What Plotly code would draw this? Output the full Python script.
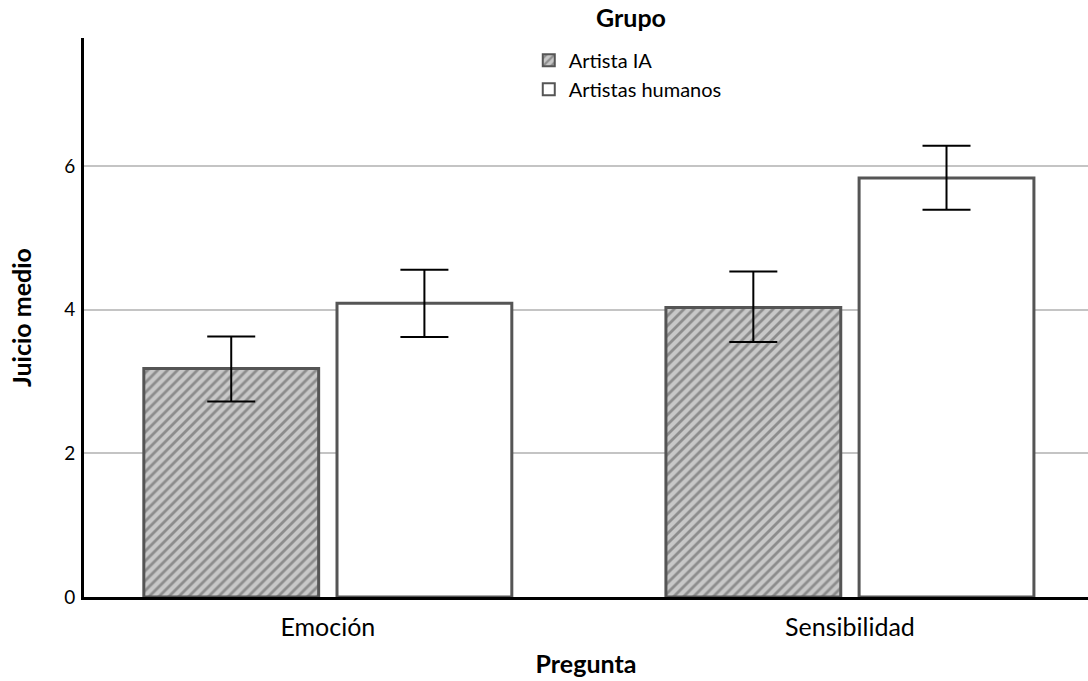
import plotly.graph_objects as go

categories = ["Emoción", "Sensibilidad"]
groups = ["Artista IA", "Artistas humanos"]
means_ia = [3.18, 4.03]
means_hum = [4.09, 5.83]
err_up_ia = [0.445, 0.50]
err_down_ia = [0.46, 0.48]
err_up_hum = [0.465, 0.45]
err_down_hum = [0.47, 0.44]
y_ticks = [0, 2, 4, 6]

FONT = "Lato"
outline = "#555555"

fig = go.Figure()
fig.add_trace(go.Bar(
    x=categories, y=means_ia, name=groups[0],
    marker=dict(color="#c8c8c8", line=dict(color=outline, width=3),
                pattern=dict(shape="/", fgcolor="#505050", bgcolor="#c8c8c8",
                             size=7, solidity=0.4)),
    error_y=dict(type="data", symmetric=False, array=err_up_ia, arrayminus=err_down_ia,
                 color="black", thickness=2, width=24),
))
fig.add_trace(go.Bar(
    x=categories, y=means_hum, name=groups[1],
    marker=dict(color="white", line=dict(color=outline, width=3)),
    error_y=dict(type="data", symmetric=False, array=err_up_hum, arrayminus=err_down_hum,
                 color="black", thickness=2, width=24),
))

fig.update_layout(
    width=1088, height=681,
    margin=dict(l=84, r=0, t=38, b=84),
    paper_bgcolor="white", plot_bgcolor="white",
    barmode="group", bargap=0.26, bargroupgap=0.095,
    font=dict(family=FONT, color="black", size=20),
    showlegend=True,
    legend=dict(x=0.443, y=0.995, xanchor="left", yanchor="top",
                bgcolor="rgba(0,0,0,0)", font=dict(size=20, family=FONT),
                tracegroupgap=0, itemsizing="constant"),
    annotations=[dict(text="<b>Grupo</b>", x=0.545, y=1.037, xref="paper", yref="paper",
                      xanchor="center", yanchor="middle", showarrow=False,
                      font=dict(size=25, family=FONT))],
)
fig.update_xaxes(
    range=[-0.467, 1.456], showline=True, linecolor="black", linewidth=3,
    ticks="", showgrid=False, layer="below traces", ticklabelstandoff=6,
    tickfont=dict(size=25, family=FONT),
    title=dict(text="<b>Pregunta</b>", font=dict(size=25, family=FONT), standoff=16),
)
fig.update_yaxes(
    range=[0, 7.78], tickvals=y_ticks, showline=True, linecolor="black", linewidth=3,
    ticks="", showgrid=True, gridcolor="#c4c4c4", gridwidth=1.5, zeroline=False,
    tickfont=dict(size=19, family=FONT), ticklabelstandoff=2,
    title=dict(text="<b>Juicio medio</b>", font=dict(size=25, family=FONT), standoff=26),
)

fig.write_html("out.html")
